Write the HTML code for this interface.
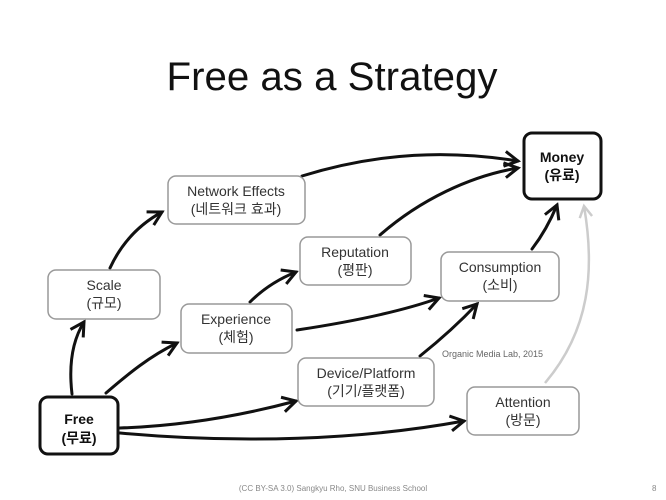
<!DOCTYPE html>
<html><head><meta charset="utf-8"><style>
html,body{margin:0;padding:0;background:#fff}
svg{display:block}
text{font-family:"Liberation Sans","Noto Sans CJK KR",sans-serif}
</style></head><body>
<svg width="666" height="500" viewBox="0 0 666 500" xmlns="http://www.w3.org/2000/svg">
<defs>
<marker id="a" viewBox="0 0 12 12" refX="10" refY="6" markerWidth="6" markerHeight="6" orient="auto" markerUnits="strokeWidth">
<path d="M1,1 L10,6 L1,11" fill="none" stroke="#111" stroke-width="2"/>
</marker>
<marker id="g" viewBox="0 0 12 12" refX="10" refY="6" markerWidth="6" markerHeight="6" orient="auto" markerUnits="strokeWidth">
<path d="M1,1 L10,6 L1,11" fill="none" stroke="#ccc" stroke-width="2"/>
</marker>
</defs>
<text x="332" y="90" font-size="40" text-anchor="middle" textLength="331" lengthAdjust="spacingAndGlyphs" fill="#111">Free as a Strategy</text>

<g fill="none" stroke="#111" stroke-width="3" stroke-linecap="round" marker-end="url(#a)">
<path d="M72,394 C68,360 74,338 84,322"/>
<path d="M110,268 C122,242 140,224 162,212"/>
<path d="M106,393 C128,374 150,356 177,343"/>
<path d="M250,302 C262,290 276,280 296,272"/>
<path d="M302,176 C380,152 450,150 518,161"/>
<path d="M380,235 C420,200 470,176 518,168"/>
<path d="M297,330 C350,322 400,312 439,298"/>
<path d="M420,356 C440,340 460,322 477,304"/>
<path d="M532,249 C542,236 550,222 557,205"/>
<path d="M120,428 C180,426 240,416 296,401"/>
<path d="M120,433 C240,444 360,440 464,421"/>
</g>
<path d="M545,383 C590,330 595,270 584,206" fill="none" stroke="#ccc" stroke-width="2.5" marker-end="url(#g)"/>

<g fill="#fff" stroke="#999" stroke-width="1.5">
<rect x="168" y="176" width="137" height="48" rx="8"/>
<rect x="48" y="270" width="112" height="49" rx="8"/>
<rect x="181" y="304" width="111" height="49" rx="8"/>
<rect x="300" y="237" width="111" height="48" rx="8"/>
<rect x="298" y="358" width="136" height="48" rx="8"/>
<rect x="441" y="252" width="118" height="49" rx="8"/>
<rect x="467" y="387" width="112" height="48" rx="8"/>
</g>
<g fill="#fff" stroke="#111" stroke-width="3">
<rect x="40" y="397" width="78" height="57" rx="8"/>
<rect x="524" y="133" width="77" height="66" rx="8"/>
</g>

<g font-size="14" fill="#333" text-anchor="middle">
<text x="236" y="196">Network Effects</text><text x="236" y="214">(네트워크 효과)</text>
<text x="104" y="290">Scale</text><text x="104" y="308">(규모)</text>
<text x="236" y="324">Experience</text><text x="236" y="342">(체험)</text>
<text x="355" y="257">Reputation</text><text x="355" y="275">(평판)</text>
<text x="366" y="378">Device/Platform</text><text x="366" y="396">(기기/플랫폼)</text>
<text x="500" y="272">Consumption</text><text x="500" y="290">(소비)</text>
<text x="523" y="407">Attention</text><text x="523" y="425">(방문)</text>
</g>
<g font-size="14" font-weight="bold" fill="#111" text-anchor="middle">
<text x="79" y="424">Free</text><text x="79" y="443">(무료)</text>
<text x="562" y="162">Money</text><text x="562" y="180">(유료)</text>
</g>
<text x="442" y="357" font-size="9" fill="#666">Organic Media Lab, 2015</text>
<text x="333" y="491" font-size="8" fill="#888" text-anchor="middle">(CC BY-SA 3.0) Sangkyu Rho, SNU Business School</text>
<text x="652" y="491" font-size="8" fill="#888">8</text>
</svg>
</body></html>
